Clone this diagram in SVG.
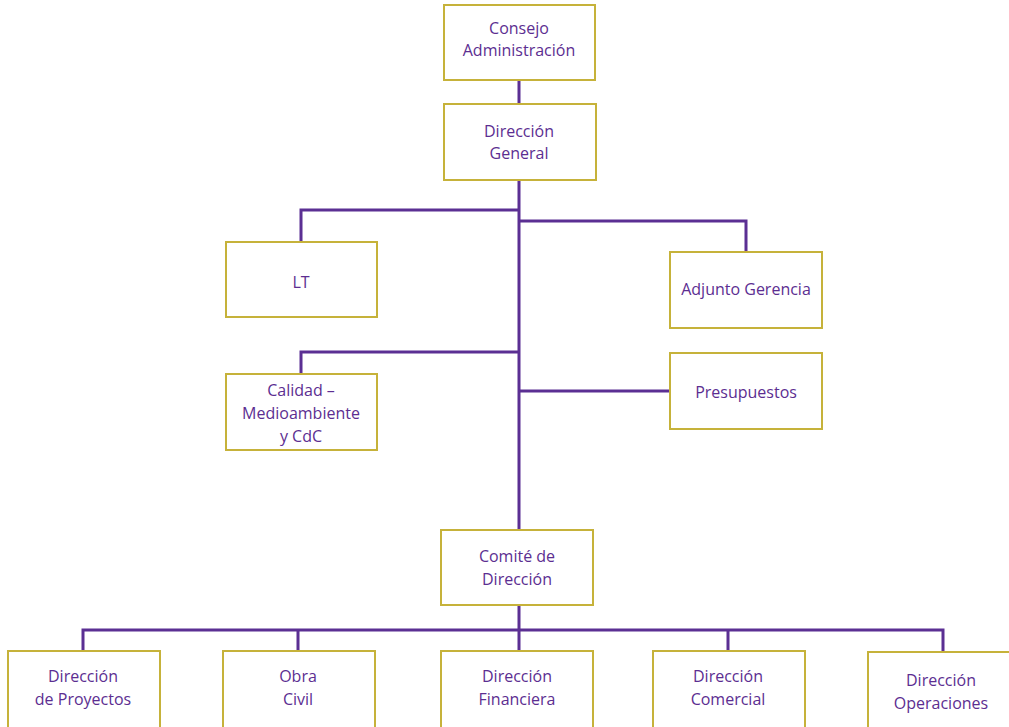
<svg xmlns="http://www.w3.org/2000/svg" width="1009" height="727" viewBox="0 0 1009 727">
<style>
.box{fill:#fff;stroke:#c6b23a;stroke-width:2}
.t{font-family:"Open Sans","Noto Sans",sans-serif;font-size:16px;font-weight:500;fill:#5c2e91;text-anchor:middle}
.c{fill:none;stroke:#5b2f93;stroke-width:3}
</style>
<rect width="1009" height="727" fill="#fff"/>
<g id="connectors">
<path class="c" d="M519 80V104M519 180V530M519 605V630"/>
<path class="c" d="M519 210H301V242M519 221H746V252M519 352H301V374M519 391H670"/>
<path class="c" d="M83 651V630H943V652M298 630V651M519 630V651M728 630V651"/>
</g>
<g id="consejo"><rect class="box" x="444" y="5" width="151" height="75"/><text class="t" x="519" y="34">Consejo</text><text class="t" x="519" y="56">Administración</text></g>
<g id="direccion-general"><rect class="box" x="444" y="104" width="152" height="76"/><text class="t" x="519" y="137">Dirección</text><text class="t" x="519" y="159">General</text></g>
<g id="lt"><rect class="box" x="226" y="242" width="151" height="75"/><text class="t" x="301" y="288">LT</text></g>
<g id="adjunto"><rect class="box" x="670" y="252" width="152" height="76"/><text class="t" x="746" y="295">Adjunto Gerencia</text></g>
<g id="calidad"><rect class="box" x="226" y="374" width="151" height="76"/><text class="t" x="301" y="396">Calidad –</text><text class="t" x="301" y="419">Medioambiente</text><text class="t" x="301" y="442">y CdC</text></g>
<g id="presupuestos"><rect class="box" x="670" y="353" width="152" height="76"/><text class="t" x="746" y="398">Presupuestos</text></g>
<g id="comite"><rect class="box" x="441" y="530" width="152" height="75"/><text class="t" x="517" y="562">Comité de</text><text class="t" x="517" y="585">Dirección</text></g>
<g id="proyectos"><rect class="box" x="8" y="651" width="152" height="80"/><text class="t" x="83" y="682">Dirección</text><text class="t" x="83" y="705">de Proyectos</text></g>
<g id="obra-civil"><rect class="box" x="223" y="651" width="152" height="80"/><text class="t" x="298" y="682">Obra</text><text class="t" x="298" y="705">Civil</text></g>
<g id="financiera"><rect class="box" x="441" y="651" width="152" height="80"/><text class="t" x="517" y="682">Dirección</text><text class="t" x="517" y="705">Financiera</text></g>
<g id="comercial"><rect class="box" x="653" y="651" width="152" height="80"/><text class="t" x="728" y="682">Dirección</text><text class="t" x="728" y="705">Comercial</text></g>
<g id="operaciones"><rect class="box" x="868" y="652" width="152" height="80"/><text class="t" x="941" y="686">Dirección</text><text class="t" x="941" y="709">Operaciones</text></g>
</svg>
